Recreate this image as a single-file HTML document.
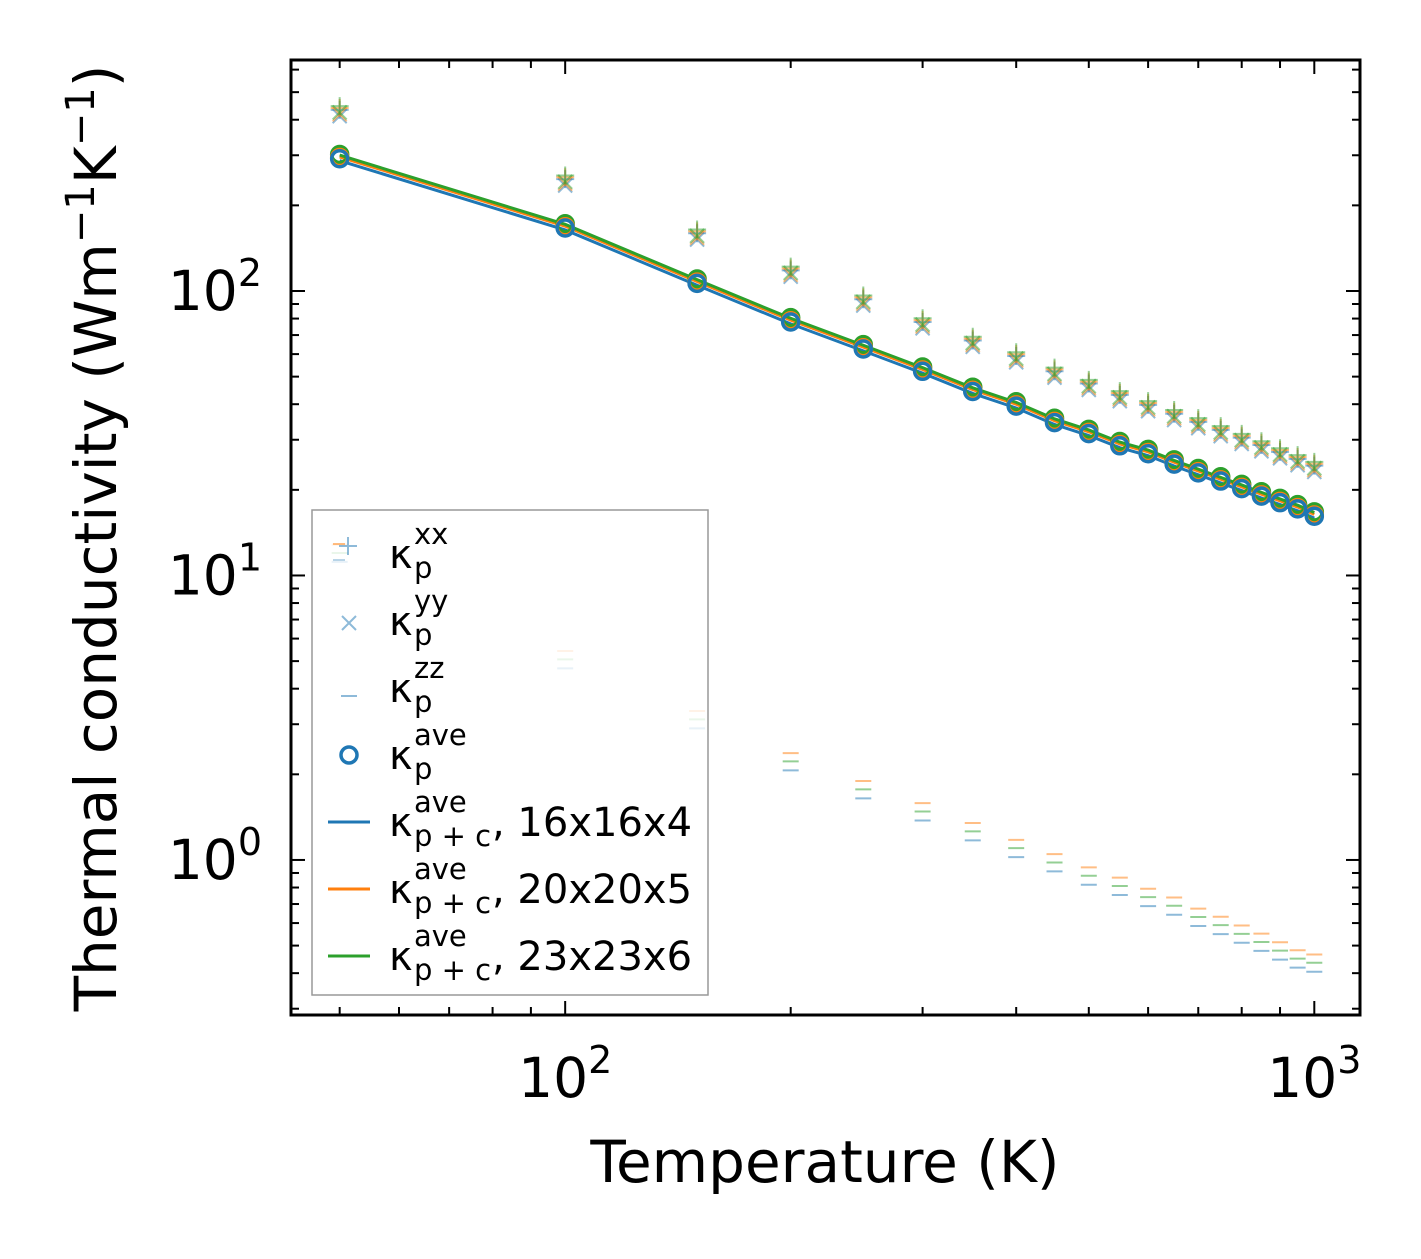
<!DOCTYPE html>
<html><head><meta charset="utf-8"><style>
body{margin:0;background:#fff}
svg text{font-family:"DejaVu Sans","Liberation Sans",sans-serif;fill:#000}
</style></head><body>
<svg id="c" width="1421" height="1254" viewBox="0 0 1421 1254"></svg>
<script>
const temps=[50,100,150,200,250,300,350,400,450,500,550,600,650,700,750,800,850,900,950,1000];
const kAve=[296,169,108,79,63.5,53,45,40,35,32,29,27.2,25,23.3,21.8,20.5,19.3,18.3,17.4,16.4];
const kXX=[440,251,162,120,95,79,68,60,53,48,43.8,40.4,37.6,35.2,33,31,29.2,27.6,26.1,24.7];
const kZZ=[12,5.07,3.12,2.22,1.77,1.48,1.26,1.1,0.98,0.88,0.81,0.74,0.69,0.63,0.59,0.55,0.515,0.48,0.45,0.435];
const meshScale=[0.97,1.0,1.015];
const zzScale=[0.93,1.07,1.0];
const colors=['#1f77b4','#ff7f0e','#2ca02c'];
const meshNames=['16x16x4','20x20x5','23x23x6'];
const xTicks=[100,1000], xTickLabels=['2','3'];
const yTicks=[1,10,100], yTickLabels=['0','1','2'];

const L=291,R=1360,T=60,B=1015;
const xlo=1.634,xhi=3.061,ylo=-0.545,yhi=2.812;
const X=v=>L+(Math.log10(v)-xlo)/(xhi-xlo)*(R-L);
const Y=v=>B-(Math.log10(v)-ylo)/(yhi-ylo)*(B-T);
const svg=document.getElementById('c');
const NS='http://www.w3.org/2000/svg';
function el(t,a,p){const e=document.createElementNS(NS,t);for(const k in a)e.setAttribute(k,a[k]);(p||svg).appendChild(e);return e;}

colors.forEach((c,i)=>{temps.forEach((t,j)=>{const x=X(t),y=Y(kZZ[j]*zzScale[i]);
 const m=el('line',{x1:x-8,x2:x+8,y1:y,y2:y,stroke:c,'stroke-width':2,opacity:0.5});
 });});
colors.forEach((c,i)=>{temps.forEach((t,j)=>{const x=X(t),y=Y(kXX[j]*(1+0.015*(i-1)));
 const p=el('path',{d:`M${x-9} ${y}H${x+9}M${x} ${y-9}V${y+9}`,stroke:c,'stroke-width':2,opacity:0.5,fill:'none'});
 
 const y2=Y(kXX[j]*0.95*(1+0.015*(i-1)));
 const q=el('path',{d:`M${x-7} ${y2-7}L${x+7} ${y2+7}M${x-7} ${y2+7}L${x+7} ${y2-7}`,stroke:c,'stroke-width':2,opacity:0.5,fill:'none'});
 });});
colors.forEach((c,i)=>{
 const pl=el('polyline',{points:temps.map((t,j)=>X(t)+','+Y(kAve[j]*meshScale[i])).join(' '),stroke:c,'stroke-width':3,fill:'none'});
 });
[2,1,0].forEach(i=>{const c=colors[i];temps.forEach((t,j)=>{
 const m=el('circle',{cx:X(t),cy:Y(kAve[j]*[0.985,0.995,1.02][i]),r:8,stroke:c,'stroke-width':3.5,fill:'none'});
 });});

const fr=el('rect',{x:L,y:T,width:R-L,height:B-T,fill:'none',stroke:'#000','stroke-width':3});

for(let d=1;d<=3;d++)for(let m=1;m<10;m++){const v=m*Math.pow(10,d);const lv=Math.log10(v);if(lv<xlo||lv>xhi)continue;
 const x=X(v),len=m==1?14:8;el('line',{x1:x,x2:x,y1:B,y2:B-len,stroke:'#000','stroke-width':2});el('line',{x1:x,x2:x,y1:T,y2:T+len,stroke:'#000','stroke-width':2});}
for(let d=-1;d<=2;d++)for(let m=1;m<10;m++){const v=m*Math.pow(10,d);const lv=Math.log10(v);if(lv<ylo||lv>yhi)continue;
 const y=Y(v),len=m==1?14:8;el('line',{x1:L,x2:L+len,y1:y,y2:y,stroke:'#000','stroke-width':2});el('line',{x1:R,x2:R-len,y1:y,y2:y,stroke:'#000','stroke-width':2});}
xTicks.forEach((v,i)=>{const t=el('text',{x:X(v),y:1097,'font-size':55,'text-anchor':'middle'});
 
 t.innerHTML=`10<tspan dy="-24" font-size="38">${xTickLabels[i]}</tspan>`;});
yTicks.forEach((v,i)=>{const t=el('text',{x:262,y:Y(v)+19,'font-size':55,'text-anchor':'end'});
 
 t.innerHTML=`10<tspan dy="-24" font-size="38">${yTickLabels[i]}</tspan>`;});
const xl=el('text',{x:825,y:1182,'font-size':58,'text-anchor':'middle'});xl.textContent='Temperature (K)';

const yl=el('text',{transform:'translate(116,538) rotate(-90)','font-size':58,'text-anchor':'middle'});
yl.innerHTML='Thermal conductivity (Wm<tspan dy="-22" font-size="40">−1</tspan><tspan dy="22">K</tspan><tspan dy="-22" font-size="40">−1</tspan><tspan dy="22">)</tspan>';


const lg=el('g',{});
el('rect',{x:312,y:510,width:396,height:485,fill:'#fff','fill-opacity':0.8,stroke:'#999','stroke-width':1.5},lg);
const rows=[['xx',''],['yy',''],['zz',''],['ave',''],['ave','p + c',', 16x16x4'],['ave','p + c',', 20x20x5'],['ave','p + c',', 23x23x6']];
rows.forEach((r,i)=>{const y=550+i*67;
 if(i==0){el('path',{d:`M339 ${y-4}h18M348 ${y-13}v18`,stroke:colors[0],'stroke-width':2,opacity:0.5},lg);
  el('line',{x1:333,x2:345,y1:y-6,y2:y-6,stroke:colors[1],opacity:0.5,'stroke-width':2},lg);el('line',{x1:333,x2:345,y1:y+10,y2:y+10,stroke:colors[0],opacity:0.3,'stroke-width':2},lg);}
 if(i==1)el('path',{d:`M342 ${y-1}l14 14M342 ${y+13}l14 -14`,stroke:colors[0],'stroke-width':2,opacity:0.5},lg);
 if(i==2)el('line',{x1:341,x2:357,y1:y+12,y2:y+12,stroke:colors[0],'stroke-width':2,opacity:0.5},lg);
 if(i==3)el('circle',{cx:349,cy:y+4,r:8,stroke:colors[0],'stroke-width':3.5,fill:'none'},lg);
 if(i>=4)el('line',{x1:328,x2:370,y1:y+4,y2:y+4,stroke:colors[i-4],'stroke-width':3},lg);
 const t=el('text',{x:389,y:y+18,'font-size':40},lg);
 t.innerHTML=`κ<tspan x="414" dy="-24" font-size="29">${r[0]}</tspan><tspan x="414" dy="34" font-size="29">${r[1]||'p'}</tspan>`+(r[2]?`<tspan dy="-10" x="492">${r[2]}</tspan>`:'');});
</script>
</body></html>
